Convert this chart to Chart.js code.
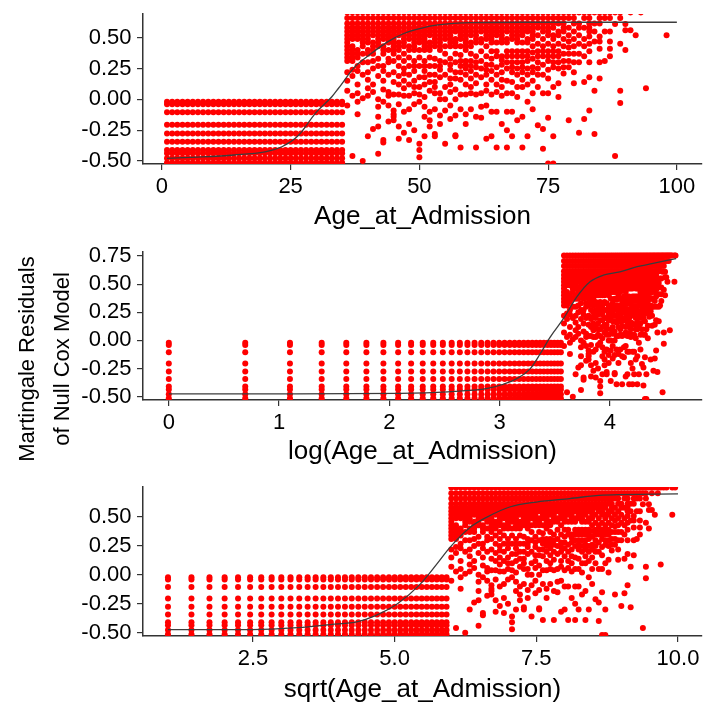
<!DOCTYPE html>
<html>
<head>
<meta charset="utf-8">
<script src="https://cdn.jsdelivr.net/npm/chart.js@4.4.1/dist/chart.umd.min.js"></script>
<style>
  html, body { margin: 0; padding: 0; background: #fff; overflow: hidden; }
  #wrap { position: relative; width: 706px; height: 702px; overflow: hidden; }
  canvas { position: absolute; left: 0; }
  #ylab {
    position: absolute; left: -106px; top: 324px; width: 300px; height: 70px;
    transform: rotate(-90deg); text-align: center; color: #000;
    font: 22px/35px "Liberation Sans", Arial, sans-serif; white-space: nowrap;
  }
</style>
</head>
<body>
<div id="wrap">
  <canvas id="c1" width="706" height="240" style="top:0px"></canvas>
  <canvas id="c2" width="706" height="232" style="top:240px"></canvas>
  <canvas id="c3" width="706" height="236" style="top:472px"></canvas>
  <div id="ylab">Martingale Residuals<br>of Null Cox Model</div>
</div>
<script>
// ages below 36: only censored residuals, same set of levels for every age
var youngAges = [1, 2, 3, 4, 5, 6, 7, 8, 9, 10, 11, 12, 13, 14, 15, 16, 17, 18, 19, 20,
  21, 22, 23, 24, 25, 26, 27, 28, 29, 30, 31, 32, 33, 34, 35];
var youngLevels = [-0.02, -0.04, -0.105, -0.205, -0.277, -0.343, -0.41, -0.436, -0.478, -0.514];

// ages 36+: dense band of rows at the top, how many rows each age fills
var bandLevels = [0.755, 0.705, 0.66, 0.615, 0.58, 0.55, 0.52, 0.49, 0.46, 0.43, 0.40, 0.37, 0.34, 0.31, 0.28];
var oldAges = [36, 37, 38, 39, 40, 41, 42, 43, 44, 45, 46, 47, 48, 49, 50, 51, 52, 53, 54, 55,
  56, 57, 58, 59, 60, 61, 62, 63, 64, 65, 66, 67, 68, 69, 70, 71, 72, 73, 74, 75,
  76, 77, 78, 79, 80, 81, 82, 83, 84, 85, 86, 87, 88, 89, 90, 91, 92, 93, 94, 95, 96, 97, 98, 99];
var bandDepth = [14, 14, 13, 12, 12, 12, 11, 12, 11, 12, 11, 12, 11, 11, 11, 12, 11, 11, 11, 10,
  11, 10, 10, 11, 10, 10, 9, 10, 9, 9, 10, 9, 9, 9, 9, 9, 8, 7, 8, 7,
  8, 7, 6, 5, 6, 5, 5, 6, 4, 5, 3, 3, 2, 3, 1, 1, 1, 1, 1, 1, 1, 0, 1, 1];
var bandHoles = [[37, 0.46], [38, 0.43], [38, 0.46], [39, 0.40], [40, 0.43], [41, 0.49], [42, 0.40],
  [43, 0.46], [44, 0.43], [46, 0.49], [47, 0.40], [48, 0.46], [50, 0.43], [51, 0.37], [52, 0.49],
  [53, 0.40], [55, 0.46], [56, 0.40], [57, 0.52], [58, 0.46], [60, 0.49], [61, 0.43], [62, 0.52],
  [63, 0.46], [65, 0.49], [66, 0.43], [67, 0.52], [68, 0.46], [70, 0.49], [71, 0.52], [73, 0.55],
  [74, 0.52], [76, 0.55], [77, 0.58], [79, 0.615], [80, 0.58], [81, 0.66], [82, 0.615], [84, 0.66], [85, 0.58]];

// scattered residuals below the band [age, residual]
var scatterPts = [
  [36, 0.22], [36, 0.15], [36, 0.07], [36, -0.05],
  [37, 0.24], [37, 0.19], [37, 0.03], [37, -0.46],
  [38, 0.27], [38, 0.23], [38, 0.12], [38, 0.05], [38, -0.02], [38, -0.12],
  [39, 0.30], [39, 0.20], [39, 0.01], [39, -0.50],
  [40, 0.30], [40, 0.22], [40, 0.16], [40, 0.09], [40, 0.03], [40, -0.30],
  [41, 0.31], [41, 0.25], [41, 0.12], [41, 0.06], [41, -0.24],
  [42, 0.33], [42, 0.27], [42, 0.19], [42, 0.00], [42, -0.06], [42, -0.14], [42, -0.22], [42, -0.44],
  [43, 0.27], [43, 0.23], [43, 0.15], [43, 0.08], [43, -0.02], [43, -0.33], [43, -0.35],
  [44, 0.33], [44, 0.30], [44, 0.20], [44, 0.06], [44, 0.03], [44, -0.05], [44, -0.18],
  [45, 0.31], [45, 0.22], [45, 0.14], [45, 0.04], [45, -0.09], [45, -0.12], [45, -0.14], [45, -0.17],
  [46, 0.34], [46, 0.27], [46, 0.19], [46, 0.12], [46, 0.04], [46, -0.04], [46, -0.22], [46, -0.32],
  [47, 0.31], [47, 0.25], [47, 0.21], [47, 0.15], [47, 0.09], [47, 0.03], [47, -0.10], [47, -0.27],
  [48, 0.34], [48, 0.27], [48, 0.20], [48, 0.12], [48, 0.03], [48, -0.08], [48, -0.20], [48, -0.33],
  [49, 0.31], [49, 0.27], [49, 0.23], [49, 0.15], [49, 0.10], [49, 0.05], [49, -0.04], [49, -0.25],
  [50, 0.34], [50, 0.27], [50, 0.18], [50, 0.10], [50, 0.04], [50, -0.02], [50, -0.36], [50, -0.41], [50, -0.47],
  [51, 0.31], [51, 0.27], [51, 0.23], [51, 0.18], [51, 0.12], [51, 0.02], [51, -0.06], [51, -0.14], [51, -0.30],
  [52, 0.34], [52, 0.27], [52, 0.20], [52, 0.14], [52, 0.07], [52, -0.10], [52, -0.17], [52, -0.22],
  [53, 0.33], [53, 0.27], [53, 0.20], [53, 0.14], [53, 0.10], [53, 0.05], [53, -0.08], [53, -0.28], [53, -0.30],
  [54, 0.31], [54, 0.27], [54, 0.24], [54, 0.18], [54, 0.05], [54, 0.00], [54, -0.13], [54, -0.20],
  [55, 0.37], [55, 0.30], [55, 0.20], [55, 0.10], [55, 0.00], [55, -0.09], [55, -0.36],
  [56, 0.33], [56, 0.28], [56, 0.24], [56, 0.17], [56, 0.12], [56, 0.06], [56, -0.05], [56, -0.16],
  [57, 0.37], [57, 0.30], [57, 0.22], [57, 0.17], [57, 0.08], [57, 0.00], [57, -0.13], [57, -0.29], [57, -0.30],
  [58, 0.36], [58, 0.31], [58, 0.27], [58, 0.22], [58, 0.16], [58, 0.04], [58, -0.08], [58, -0.39],
  [59, 0.31], [59, 0.28], [59, 0.25], [59, 0.20], [59, 0.12], [59, 0.04], [59, -0.12], [59, -0.20],
  [60, 0.37], [60, 0.31], [60, 0.27], [60, 0.23], [60, 0.17], [60, 0.10], [60, 0.05], [60, -0.08],
  [61, 0.35], [61, 0.30], [61, 0.26], [61, 0.20], [61, 0.13], [61, 0.04], [61, -0.14], [61, -0.39],
  [62, 0.39], [62, 0.31], [62, 0.25], [62, 0.18], [62, 0.05], [62, -0.06], [62, -0.15],
  [63, 0.35], [63, 0.28], [63, 0.24], [63, 0.20], [63, 0.12], [63, 0.07], [63, -0.05], [63, -0.32],
  [64, 0.39], [64, 0.33], [64, 0.28], [64, 0.23], [64, 0.16], [64, 0.04], [64, -0.10], [64, -0.30],
  [65, 0.39], [65, 0.35], [65, 0.26], [65, 0.20], [65, 0.12], [65, 0.06], [65, -0.10], [65, -0.39],
  [66, 0.35], [66, 0.32], [66, 0.28], [66, 0.22], [66, 0.16], [66, 0.10], [66, 0.03], [66, -0.20],
  [67, 0.39], [67, 0.35], [67, 0.30], [67, 0.25], [67, 0.15], [67, 0.05], [67, -0.10], [67, -0.25], [67, -0.39],
  [68, 0.39], [68, 0.35], [68, 0.30], [68, 0.26], [68, 0.22], [68, 0.14], [68, 0.05], [68, -0.10], [68, -0.30],
  [69, 0.39], [69, 0.35], [69, 0.30], [69, 0.25], [69, 0.20], [69, 0.10], [69, 0.02], [69, -0.17],
  [70, 0.39], [70, 0.35], [70, 0.30], [70, 0.26], [70, 0.22], [70, 0.16], [70, 0.10], [70, -0.14], [70, -0.39],
  [71, 0.39], [71, 0.35], [71, 0.31], [71, 0.25], [71, 0.20], [71, 0.12], [71, -0.02], [71, -0.30],
  [72, 0.43], [72, 0.38], [72, 0.33], [72, 0.26], [72, 0.22], [72, 0.15], [72, 0.05], [72, -0.08],
  [73, 0.45], [73, 0.39], [73, 0.35], [73, 0.30], [73, 0.25], [73, 0.20], [73, 0.10], [73, -0.21],
  [74, 0.43], [74, 0.39], [74, 0.35], [74, 0.28], [74, 0.20], [74, 0.05], [74, -0.24], [74, -0.40],
  [75, 0.45], [75, 0.39], [75, 0.35], [75, 0.31], [75, 0.24], [75, 0.17], [75, 0.05], [75, -0.15], [75, -0.52],
  [76, 0.43], [76, 0.39], [76, 0.35], [76, 0.30], [76, 0.26], [76, 0.10], [76, -0.30], [76, -0.52],
  [77, 0.45], [77, 0.39], [77, 0.35], [77, 0.30], [77, 0.25], [77, 0.13], [77, 0.02],
  [78, 0.49], [78, 0.43], [78, 0.37], [78, 0.31], [78, 0.26], [78, 0.21],
  [79, 0.52], [79, 0.47], [79, 0.42], [79, 0.37], [79, 0.31], [79, 0.26], [79, -0.17],
  [80, 0.49], [80, 0.43], [80, 0.37], [80, 0.30], [80, 0.22], [80, 0.13],
  [81, 0.52], [81, 0.45], [81, 0.37], [81, 0.30], [81, -0.27],
  [82, 0.49], [82, 0.43], [82, 0.35], [82, 0.14], [82, -0.16],
  [83, 0.51], [83, 0.45], [83, 0.39], [83, 0.30], [83, 0.18], [83, -0.09],
  [84, 0.55], [84, 0.47], [84, 0.07], [84, -0.28],
  [85, 0.51], [85, 0.47], [85, 0.41], [85, 0.30], [85, 0.17],
  [86, 0.55], [86, 0.31],
  [87, 0.55], [87, 0.47], [87, 0.41], [87, 0.35],
  [88, 0.61], [88, -0.46],
  [89, 0.45], [89, 0.07], [89, -0.03],
  [90, 0.61], [90, 0.56], [90, 0.40],
  [91, 0.705], [91, 0.56],
  [92, 0.52], [93, 0.705], [94, 0.09], [98, 0.52]
];

// smooth fits
var fit1X = [1, 7, 14, 20, 23.3, 26.6, 29.8, 33, 34.3, 37.5, 40.7, 43.9, 47.1, 50.3, 53.6, 60, 70, 100];
var fit1Y = [-0.478, -0.468, -0.451, -0.425, -0.384, -0.289, -0.113, 0.021, 0.09, 0.265, 0.373, 0.468, 0.536, 0.576, 0.603, 0.622, 0.625, 0.625];
var fit2X = [0, 1, 2.1, 2.53, 2.89, 3.04, 3.16, 3.28, 3.37, 3.46, 3.58, 3.70, 3.82, 3.94, 4.09, 4.24, 4.39, 4.60];
var fit2Y = [-0.475, -0.475, -0.47, -0.456, -0.426, -0.387, -0.337, -0.248, -0.115, 0.032, 0.195, 0.386, 0.52, 0.579, 0.608, 0.652, 0.683, 0.727];
var fit3X = [1, 2.48, 3.29, 3.87, 4.35, 4.65, 5.05, 5.46, 5.75, 5.98, 6.33, 6.63, 7.03, 7.5, 8.09, 8.67, 10];
var fit3Y = [-0.474, -0.474, -0.457, -0.43, -0.405, -0.355, -0.25, -0.076, 0.097, 0.24, 0.41, 0.5, 0.587, 0.63, 0.66, 0.69, 0.70];

// tick labels
var xTicks1 = [0, 25, 50, 75, 100];
var xTicks2 = [0, 1, 2, 3, 4];
var xTicks3 = [2.5, 5.0, 7.5, 10.0];
var yTicks1 = [-0.5, -0.25, 0, 0.25, 0.5];
var yTicks2 = [-0.5, -0.25, 0, 0.25, 0.5, 0.75];
var yTicks3 = [-0.5, -0.25, 0, 0.25, 0.5];

var FONT = "'Liberation Sans', Arial, sans-serif";

function isHole(age, lvl) {
  for (var i = 0; i < bandHoles.length; i++) {
    if (bandHoles[i][0] === age && bandHoles[i][1] === lvl) return true;
  }
  return false;
}

function buildPoints(tf) {
  var pts = [];
  youngAges.forEach(function (a) {
    youngLevels.forEach(function (r) { pts.push({ x: tf(a), y: r }); });
  });
  oldAges.forEach(function (a, i) {
    for (var k = 0; k < bandDepth[i]; k++) {
      if (!isHole(a, bandLevels[k])) pts.push({ x: tf(a), y: bandLevels[k] });
    }
  });
  scatterPts.forEach(function (p) { pts.push({ x: tf(p[0]), y: p[1] }); });
  return pts;
}

function drawPanel(id, tf, fitX, fitY, xMin, xMax, yMin, yMax, xTicks, yTicks, xFmt, xTitle, padTop, xH, titlePad) {
  var fit = fitX.map(function (x, i) { return { x: x, y: fitY[i] }; });
  new Chart(document.getElementById(id), {
    type: 'scatter',
    data: {
      datasets: [{
        data: fit,
        showLine: true,
        borderColor: '#3c3c3c',
        borderWidth: 1.3,
        pointRadius: 0,
        cubicInterpolationMode: 'monotone',
        clip: 0
      }, {
        data: buildPoints(tf),
        pointRadius: 3,
        backgroundColor: '#ff0000',
        borderColor: '#ff0000',
        borderWidth: 0,
        clip: 0
      }]
    },
    options: {
      responsive: false,
      animation: false,
      events: [],
      layout: { padding: { top: padTop, left: 0, right: 0, bottom: 0 } },
      plugins: { legend: { display: false }, tooltip: { enabled: false } },
      scales: {
        x: {
          type: 'linear', min: xMin, max: xMax,
          afterBuildTicks: function (s) { s.ticks = xTicks.map(function (v) { return { value: v }; }); },
          afterFit: function (s) { s.height = xH; s.paddingLeft = 0; s.paddingRight = 0; },
          ticks: { callback: xFmt, font: { family: FONT, size: 22 }, color: '#000', padding: 4, maxRotation: 0, autoSkip: false },
          grid: { drawOnChartArea: false, tickLength: 6, color: '#333', lineWidth: 1.2 },
          border: { color: '#333', width: 1.5 },
          title: { display: true, text: xTitle, color: '#000', font: { family: FONT, size: 26 }, padding: { top: 0, bottom: titlePad } }
        },
        y: {
          type: 'linear', min: yMin, max: yMax,
          afterBuildTicks: function (s) { s.ticks = yTicks.map(function (v) { return { value: v }; }); },
          afterFit: function (s) { s.width = 143; s.paddingTop = 0; s.paddingBottom = 0; },
          ticks: { callback: function (v) { return v.toFixed(2); }, font: { family: FONT, size: 22 }, color: '#000', padding: 5.5, autoSkip: false },
          grid: { drawOnChartArea: false, tickLength: 6, color: '#333', lineWidth: 1.2 },
          border: { color: '#333', width: 1.5 }
        }
      }
    }
  });
}

drawPanel('c1', function (a) { return a; }, fit1X, fit1Y, -3.665, 104.88, -0.524, 0.692,
  xTicks1, yTicks1, function (v) { return String(v); }, 'Age_at_Admission', 14, 76, 8);
drawPanel('c2', Math.log, fit2X, fit2Y, -0.234, 4.835, -0.529, 0.785,
  xTicks2, yTicks2, function (v) { return String(v); }, 'log(Age_at_Admission)', 12, 72, 5);
drawPanel('c3', Math.sqrt, fit3X, fit3Y, 0.559, 10.424, -0.529, 0.76,
  xTicks3, yTicks3, function (v) { return v.toFixed(1); }, 'sqrt(Age_at_Admission)', 15, 72, 2.5);
</script>
</body>
</html>
